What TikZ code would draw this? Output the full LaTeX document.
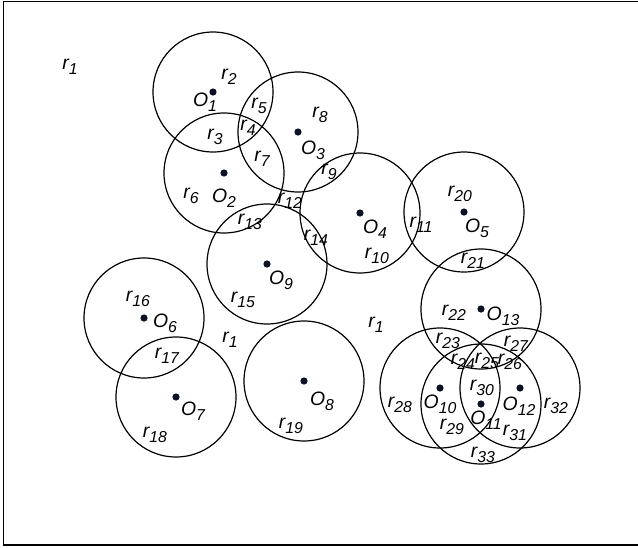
\documentclass[tikz,border=0pt]{standalone}
\usepackage{fontspec}
\setmainfont{Liberation Sans}
\definecolor{dotblue}{RGB}{12,18,38}
\tikzset{
    zone/.style={circle, draw, line width=0.6pt, minimum size=60pt, inner sep=0pt},
    region/.style={font=\fontsize{9.7}{10}\selectfont\itshape, inner sep=0pt},
}
\newcommand{\sublab}[2]{#1\raisebox{-2.6pt}{\fontsize{7.9}{8}\selectfont #2}}
\begin{document}
\begin{tikzpicture}[x=0.5pt,y=-0.5pt]
        \useasboundingbox (0,0) rectangle (638,547);
        \draw[line width=0.75pt] (638,1.5) -- (3.5,1.5) -- (3.5,545) -- (638,545);
        % circles with their centres
        \foreach \n / \x / \y in {1/213/92,2/224/173,3/298/132,4/360/213,5/464/212,
            6/144/318,7/176/397,8/304/381,9/267/264,10/440/388,11/481/404,
            12/520/388,13/481/309}
        {
            \node[zone] (c\n) at (\x, \y) {};
            \fill[dotblue] (c\n.center) circle (3.6);
        }
        % centre labels
        \foreach \n / \x / \y in {1/205/102,2/224/198,3/313/150,4/375/229,5/477/228,
            6/165/323,7/193/411,8/322/401,9/281/280,10/440/404,11/486/420,
            12/519/406,13/503/316}
        {
            \node[region] (O\n) at (\x, \y) {\sublab{O}{\n}};
        }
        % region labels
        \foreach \nm / \s / \x / \y in {r1a/1/70/67,r1b/1/376/325,r1c/1/230/340,
            r2/2/229/77,r3/3/215/137,r4/4/248/128,r5/5/259/106,r6/6/191/196,
            r7/7/262/159,r8/8/320/115,r9/9/329/172,r10/10/377/256,r11/11/421/225,
            r12/12/290/201,r13/13/250/222,r14/14/316/238,r15/15/243/300,
            r16/16/138/299,r17/17/167/356,r18/18/155/435,r19/19/291/426,
            r20/20/460/194,r21/21/473/261,r22/22/454/313,r23/23/448/341,
            r24/24/463/362,r25/25/487/361,r26/26/510/362,r27/27/516/344,
            r28/28/400/405,r29/29/452/427,r30/30/482/388,r31/31/515/433,
            r32/32/556/406,r33/33/483/455}
        {
            \node[region] (\nm) at (\x, \y) {\sublab{r}{\s}};
        }
\end{tikzpicture}
\end{document}
